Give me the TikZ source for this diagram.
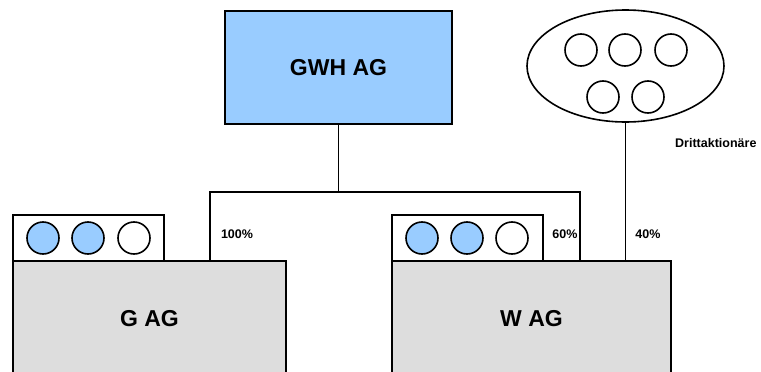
\documentclass[tikz,border=0pt]{standalone}
\usepackage{fontspec}
\setmainfont{Liberation Sans}
\usetikzlibrary{shapes.geometric,positioning}
\definecolor{holdblue}{HTML}{99CCFF}
\definecolor{subgray}{HTML}{DDDDDD}
\tikzset{
  edge/.style={draw=black,line width=1.6pt},
  company/.style={edge,rectangle,inner sep=0pt,font=\fontsize{23}{27}\selectfont\bfseries},
  sharebox/.style={edge,rectangle,fill=white,inner sep=0pt},
  share/.style={edge,circle,inner sep=0pt,minimum size=32pt},
  pct/.style={font=\fontsize{12.5}{15}\selectfont\bfseries,inner sep=0pt}
}
\begin{document}
\begin{tikzpicture}[x=1pt,y=-1pt]
\useasboundingbox (0,0) rectangle (761,372);
% parent company
\node[company,fill=holdblue,minimum width=227pt,minimum height=113pt] (gwh) at (338.5,67.5) {GWH AG};
% share panels above the subsidiaries
\node[sharebox,minimum width=151pt,minimum height=46pt] (gsh) at (88.5,238) {};
\node[sharebox,minimum width=151pt,minimum height=46pt] (wsh) at (467.5,238) {};
\node[share,fill=holdblue] (g1) at (43,238) {};
\node[share,fill=holdblue] (g2) at (88,238) {};
\node[share,fill=white] (g3) at (134,238) {};
\node[share,fill=holdblue] (w1) at (422,238) {};
\node[share,fill=holdblue] (w2) at (467,238) {};
\node[share,fill=white] (w3) at (512,238) {};
% subsidiaries
\node[company,fill=subgray,minimum width=273pt,minimum height=115pt] (gag) at (149.5,318.5) {G AG};
\node[company,fill=subgray,minimum width=279pt,minimum height=115pt] (wag) at (531.5,318.5) {W AG};
% third-party shareholders
\node[edge,ellipse,fill=white,minimum width=197pt,minimum height=112pt,inner sep=0pt] (dritt) at (625.5,66) {};
\node[share] (d1) at (581,50) {};
\node[share] (d2) at (625,50) {};
\node[share] (d3) at (671,50) {};
\node[share] (d4) at (603,97) {};
\node[share] (d5) at (648,97) {};
\node[pct,anchor=west] (dlabel) at (675,143) {Drittaktionäre};
% ownership lines
\coordinate (jm) at (338.5,192);
\coordinate (jl) at (210,192);
\coordinate (jr) at (580,192);
\draw[edge] (gwh.south) -- (jm);
\draw[edge] (gag.north -| jl) -- (jl) -- (jr) -- (wag.north -| jr);
\draw[edge] (dritt.south) -- (wag.north -| dritt.south);
% percentages
\node[pct] (p100) at (237,234) {100\%};
\node[pct] (p60) at (565,234) {60\%};
\node[pct] (p40) at (648,234) {40\%};
\end{tikzpicture}
\end{document}
